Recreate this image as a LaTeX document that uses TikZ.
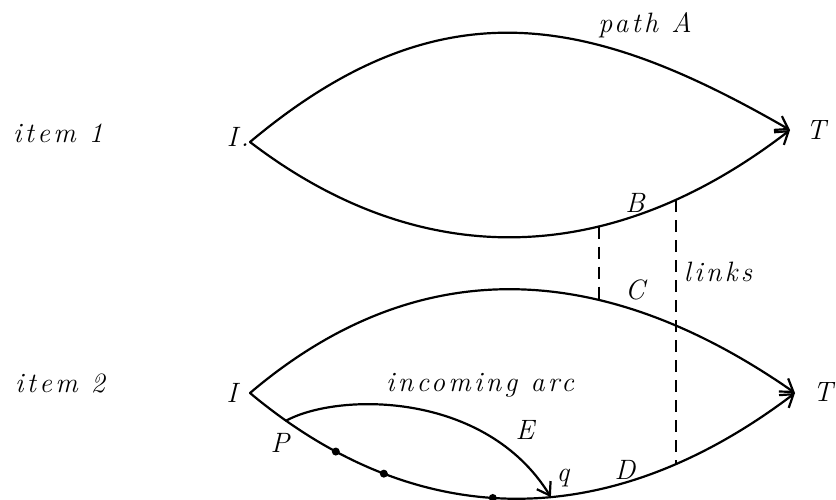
\documentclass[tikz,border=0pt]{standalone}
\usepackage{fontspec}
\usetikzlibrary{arrows.meta,bending}
\newfontfamily\handfont[LetterSpace=12]{Latin Modern Roman}
\tikzset{
  curve/.style={line width=2.2pt, line cap=round},
  tip/.style={-{Straight Barb[length=12pt,width=16pt,line width=2.2pt]}},
  lbl/.style={font=\fontsize{28}{32}\selectfont\handfont\itshape, inner sep=0pt},
  linkline/.style={line width=2pt, dash pattern=on 12pt off 8pt},
  pt/.style={circle, fill, inner sep=0pt, minimum size=8pt},
}
\begin{document}
\begin{tikzpicture}[x=1pt,y=-1pt]
\useasboundingbox (0,0) rectangle (836,499);
% row labels
\node[lbl] (item1) at (58,133) {item 1};
\node[lbl] (item2) at (60,383) {item 2};
% end points
\coordinate (I1) at (250,142);
\coordinate (T1) at (790,130);
\coordinate (I2) at (250,393);
\coordinate (T2) at (795,393);
% item 1
\draw[curve,tip] (I1) .. controls (442,-19) and (593,16) .. (T1);
\draw[curve,tip] (I1) .. controls (420,272) and (610,270) .. coordinate[pos=0.65] (b1) coordinate[pos=0.79] (b2) (T1);
% item 2
\draw[curve,tip] (I2) .. controls (430,240) and (620,270) .. coordinate[pos=0.635] (c1) (T2);
\draw[curve,tip] (I2) .. controls (420,535) and (612,533) .. coordinate[pos=0.07] (P) coordinate[pos=0.165] (d1) coordinate[pos=0.255] (d2) coordinate[pos=0.455] (d3) coordinate[pos=0.56] (q) coordinate[pos=0.785] (dl) (T2);
% incoming arc
\draw[curve,tip] (P) .. controls (339,392) and (488,391) .. (q);
% points on path D
\node[pt] (dot1) at (d1) {};
\node[pt] (dot2) at (d2) {};
\node[pt] (dot3) at (d3) {};
% links
\draw[linkline] (b1) -- (b1 |- c1);
\draw[linkline] (b2) -- (b2 |- dl);
% labels
\node[lbl] (lA) at (645,25) {path A};
\node[lbl] (lI1) at (238,137) {I.};
\node[lbl] (lT1) at (816,130) {T};
\node[lbl] (lB) at (635,203) {B};
\node[lbl] (lC) at (635,290) {C};
\node[lbl] (llinks) at (718,272) {links};
\node[lbl] (lI2) at (232,393) {I};
\node[lbl] (lT2) at (823,392) {T};
\node[lbl] (lP) at (280,443) {P};
\node[lbl] (lE) at (525,430) {E};
\node[lbl] (lq) at (563,478) {q};
\node[lbl] (lD) at (625,470) {D};
\node[lbl] (linc) at (480,385) {incoming arc};
\end{tikzpicture}
\end{document}
